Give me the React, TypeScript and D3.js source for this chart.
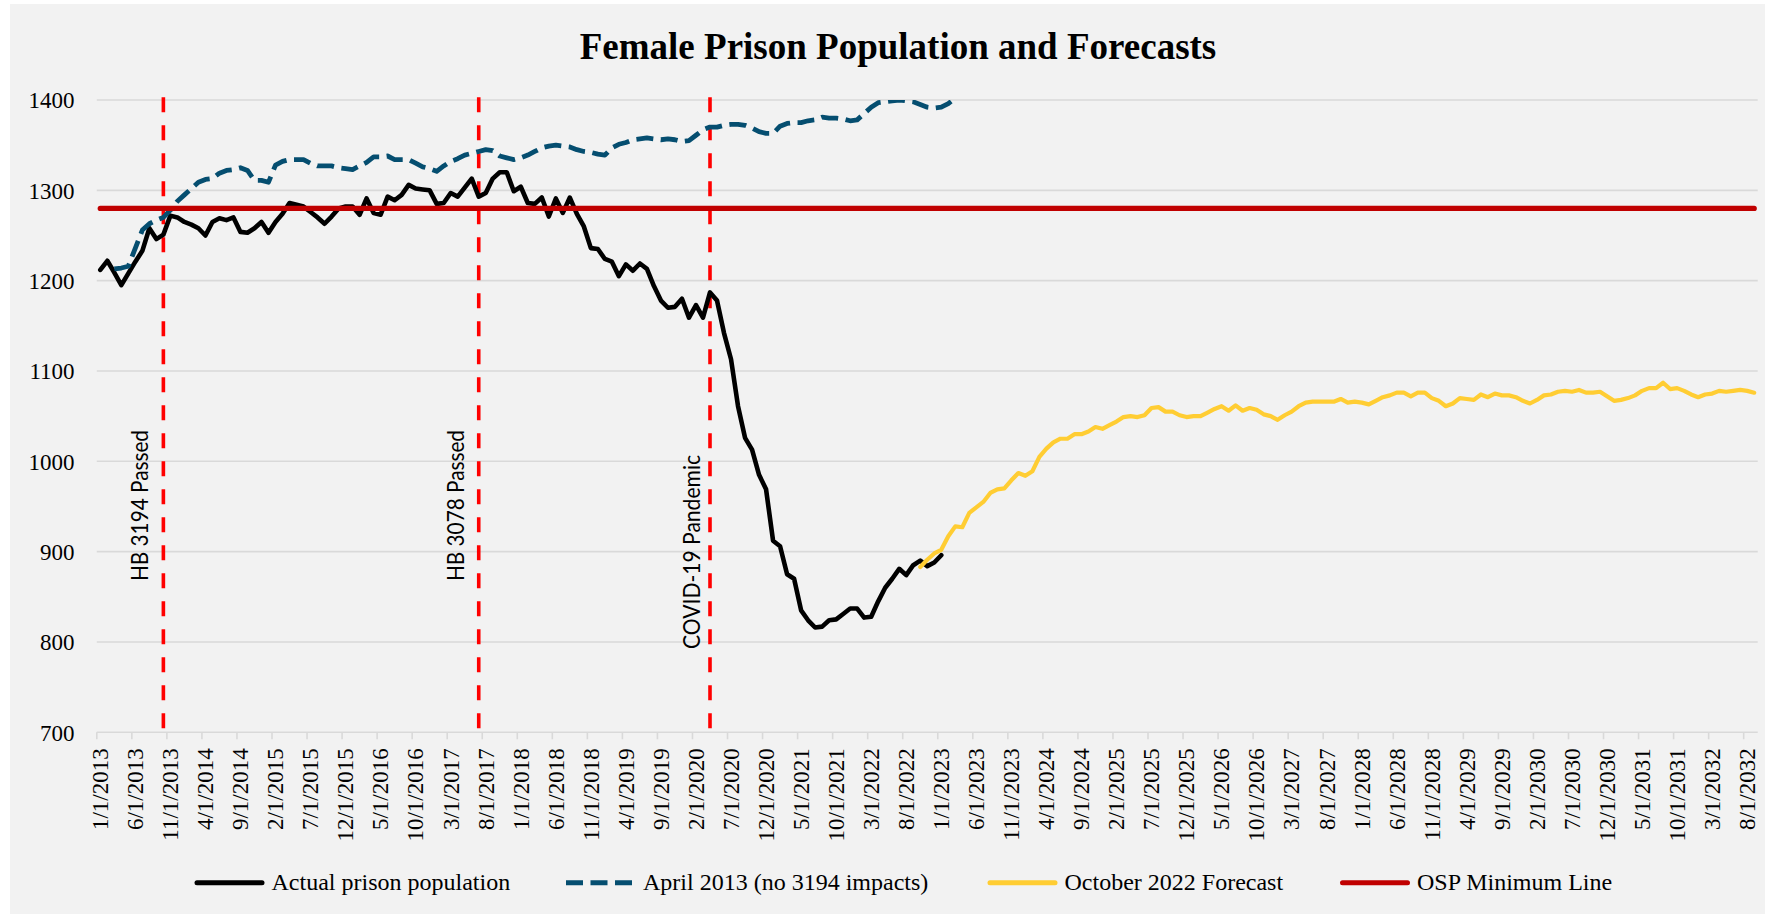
import React from "react";
import * as d3 from "d3";

// ---------- data ----------
const MONTH_COUNT = 237; // monthly categories 1/2013 .. 9/2032

const xTickLabels = [
  "1/1/2013", "6/1/2013", "11/1/2013", "4/1/2014", "9/1/2014", "2/1/2015", "7/1/2015", "12/1/2015",
  "5/1/2016", "10/1/2016", "3/1/2017", "8/1/2017", "1/1/2018", "6/1/2018", "11/1/2018", "4/1/2019",
  "9/1/2019", "2/1/2020", "7/1/2020", "12/1/2020", "5/1/2021", "10/1/2021", "3/1/2022", "8/1/2022",
  "1/1/2023", "6/1/2023", "11/1/2023", "4/1/2024", "9/1/2024", "2/1/2025", "7/1/2025", "12/1/2025",
  "5/1/2026", "10/1/2026", "3/1/2027", "8/1/2027", "1/1/2028", "6/1/2028", "11/1/2028", "4/1/2029",
  "9/1/2029", "2/1/2030", "7/1/2030", "12/1/2030", "5/1/2031", "10/1/2031", "3/1/2032", "8/1/2032",
];
const TICK_EVERY = 5; // months between labels

const yTicks = [700, 800, 900, 1000, 1100, 1200, 1300, 1400];

// Actual prison population, starts 1/2013 (month 0)
const actualStart = 0;
const actual = [
  1212, 1222, 1209, 1195, 1208, 1221, 1233, 1258, 1246, 1251,
  1272, 1270, 1265, 1262, 1258, 1250, 1265, 1269, 1267, 1270,
  1254, 1253, 1258, 1265, 1253, 1265, 1274, 1286, 1284, 1282,
  1276, 1270, 1263, 1271, 1280, 1282, 1282, 1273, 1291, 1275,
  1273, 1293, 1289, 1295, 1306, 1302, 1301, 1300, 1285, 1286,
  1297, 1293, 1303, 1313, 1293, 1297, 1313, 1320, 1320, 1299,
  1304, 1286, 1285, 1292, 1271, 1291, 1275, 1292, 1274, 1260,
  1236, 1235, 1224, 1221, 1205, 1218, 1211, 1219, 1213, 1194,
  1178, 1170, 1171, 1180, 1159, 1173, 1159, 1187, 1178, 1142,
  1113, 1061, 1026, 1013, 985, 969, 912, 906, 875, 870,
  835, 824, 816, 817, 824, 825, 831, 837, 837, 827,
  828, 845, 860, 870, 881, 874, 885, 890, 884, 888,
  896,
];

// April 2013 forecast (no 3194 impacts), starts 3/2013 (month 2)
const aprilStart = 2;
const april2013 = [
  1213, 1214, 1216, 1236, 1256, 1263, 1267, 1270,
  1278, 1288, 1295, 1302, 1309, 1312, 1313, 1319, 1322, 1323,
  1325, 1322, 1311, 1311, 1309, 1328, 1332, 1334, 1334, 1334,
  1330, 1327, 1327, 1327, 1325, 1324, 1323, 1327, 1331, 1337,
  1337, 1338, 1334, 1334, 1334, 1330, 1326, 1324, 1321, 1327,
  1332, 1335, 1339, 1341, 1343, 1345, 1344, 1338, 1336, 1334,
  1336, 1339, 1343, 1347, 1349, 1350, 1349, 1348, 1345, 1343,
  1342, 1340, 1339, 1347, 1351, 1353, 1356, 1357, 1358, 1357,
  1356, 1357, 1356, 1354, 1355, 1361, 1367, 1370, 1370, 1372,
  1373, 1373, 1372, 1369, 1365, 1363, 1363, 1371, 1374, 1375,
  1375, 1377, 1378, 1381, 1380, 1380, 1379, 1377, 1378, 1385,
  1392, 1397, 1398, 1399, 1400, 1399, 1398, 1395, 1392, 1391,
  1392, 1396, 1402, 1410,
];

// October 2022 forecast, starts 10/2022 (month 117)
const octStart = 117;
const oct2022 = [
  883, 891, 898, 902, 917, 928, 927, 943, 949, 955,
  965, 969, 970, 979, 987, 984, 989, 1005, 1014, 1021,
  1025, 1025, 1030, 1030, 1033, 1038, 1036, 1040, 1044, 1049,
  1050, 1049, 1051, 1059, 1060, 1055, 1055, 1051, 1049, 1050,
  1050, 1054, 1058, 1061, 1056, 1062, 1056, 1059, 1057, 1052,
  1050, 1046, 1051, 1055, 1061, 1065, 1066, 1066, 1066, 1066,
  1069, 1065, 1066, 1065, 1063, 1067, 1071, 1073, 1076, 1076,
  1072, 1076, 1076, 1070, 1067, 1061, 1064, 1070, 1069, 1068,
  1074, 1071, 1075, 1073, 1073, 1071, 1067, 1064, 1068, 1073,
  1074, 1077, 1078, 1077, 1079, 1076, 1076, 1077, 1072, 1067,
  1068, 1070, 1073, 1078, 1081, 1081, 1087, 1080, 1081, 1078,
  1074, 1071, 1074, 1075, 1078, 1077, 1078, 1079, 1078, 1076,
];

const ospMinimum = 1280;

const eventLabels = ["HB 3194 Passed", "HB 3078 Passed", "COVID-19 Pandemic"];
const eventMonths = [9, 54, 87];

const legendLabels = [
  "Actual prison population",
  "April 2013 (no 3194 impacts)",
  "October 2022 Forecast",
  "OSP Minimum Line",
];

// ---------- styles / layout ----------
const SERIF = "'Liberation Serif', 'Times New Roman', Times, serif";
const SANS = "Lato, 'Open Sans', 'Liberation Sans', sans-serif";
const C_ACTUAL = "#000000";
const C_APRIL = "#054E70";
const C_OCT = "#FFCD33";
const C_OSP = "#C00000";
const C_EVENT = "#FF0000";
const C_GRID = "#D9D9D9";
const APRIL_DASH = "17 7.5";

const eventLayout = [
  { gap: 15.4, bottom: 581, length: 151 },
  { gap: 14.9, bottom: 581, length: 151 },
  { gap: 10, bottom: 649, length: 194 },
];
const legendX = [194.5, 566, 987.5, 1340];

export default function App() {
  const W = 1765;
  const H = 914;
  const plot = { left: 96.8, right: 1757.7, top: 100, bottom: 732.3 };

  const months = d3.range(MONTH_COUNT);
  const x = d3.scaleBand<number>().domain(months).range([plot.left, plot.right]).padding(0);
  const bw = x.bandwidth();
  const xc = (i: number) => (x(i) as number) + bw / 2;
  const y = d3.scaleLinear().domain([700, 1400]).range([plot.bottom, plot.top]);

  const pts = (start: number, vals: number[]): [number, number][] =>
    vals.map((v, k) => [start + k, v] as [number, number]);
  const line = d3
    .line<[number, number]>()
    .x((d) => xc(d[0]))
    .y((d) => y(d[1]));

  const actualPath = line(pts(actualStart, actual)) || "";
  const aprilPath = line(pts(aprilStart, april2013)) || "";
  const octPath = line(pts(octStart, oct2022)) || "";
  const ospPath = line(months.map((m) => [m, ospMinimum] as [number, number])) || "";

  const tickMonths = xTickLabels.map((_, k) => k * TICK_EVERY);

  const legendY = 882.7;

  return (
    <div style={{ position: "absolute", left: 0, top: 0 }}>
      <svg width={W} height={H} viewBox={`0 0 ${W} ${H}`} style={{ display: "block" }}>
        <defs>
          <clipPath id="plotClip">
            <rect x={plot.left - 5} y={plot.top} width={plot.right - plot.left + 10} height={plot.bottom - plot.top} />
          </clipPath>
        </defs>
        <rect x={0} y={0} width={W} height={H} fill="#ffffff" />
        <rect x={10} y={4} width={W - 10} height={H - 4} fill="#F2F2F2" />

        {/* title */}
        <text x={898} y={59} textAnchor="middle" fontFamily={SERIF} fontWeight="bold" fontSize={37} fill="#000">
          Female Prison Population and Forecasts
        </text>

        {/* gridlines */}
        {yTicks.map((t) => (
          <line key={t} x1={plot.left} x2={plot.right} y1={y(t)} y2={y(t)} stroke={C_GRID} strokeWidth={1.6} />
        ))}
        {/* x ticks */}
        {tickMonths.map((m) => (
          <line key={m} x1={x(m)} x2={x(m)} y1={plot.bottom} y2={plot.bottom + 7} stroke={C_GRID} strokeWidth={1.6} />
        ))}

        {/* y labels */}
        {yTicks.map((t) => (
          <text key={t} x={74.6} y={y(t) + 8.2} textAnchor="end" fontFamily={SERIF} fontSize={23} fill="#000">
            {t}
          </text>
        ))}

        {/* x labels */}
        {xTickLabels.map((lab, k) => (
          <text
            key={lab}
            transform={`translate(${xc(tickMonths[k])},748.3) rotate(-90)`}
            textAnchor="end"
            dy="0.34em"
            fontFamily={SERIF}
            fontSize={23}
            fill="#000"
          >
            {lab}
          </text>
        ))}

        {/* event lines */}
        {eventMonths.map((m) => (
          <line
            key={m}
            x1={xc(m)}
            x2={xc(m)}
            y1={plot.top - 2.7}
            y2={plot.bottom}
            stroke={C_EVENT}
            strokeWidth={3.6}
            strokeDasharray="15 13"
          />
        ))}
        {eventLabels.map((lab, k) => (
          <text
            key={lab}
            transform={`translate(${xc(eventMonths[k]) - eventLayout[k].gap},${eventLayout[k].bottom}) rotate(-90)`}
            textAnchor="start"
            fontFamily={SANS}
            fontSize={23}
            textLength={eventLayout[k].length}
            lengthAdjust="spacingAndGlyphs"
            fill="#000"
          >
            {lab}
          </text>
        ))}

        {/* series */}
        <path d={actualPath} fill="none" stroke={C_ACTUAL} strokeWidth={4.6} strokeLinejoin="round" strokeLinecap="round" />
        <g clipPath="url(#plotClip)">
          <path d={aprilPath} fill="none" stroke={C_APRIL} strokeWidth={4.8} strokeLinejoin="round" strokeDasharray={APRIL_DASH} />
        </g>
        <path d={octPath} fill="none" stroke={C_OCT} strokeWidth={4.2} strokeLinejoin="round" strokeLinecap="round" />
        <path d={ospPath} fill="none" stroke={C_OSP} strokeWidth={5.3} strokeLinejoin="round" strokeLinecap="round" />

        {/* legend */}
        {legendLabels.map((lab, k) => {
          const sx = legendX[k];
          const color = [C_ACTUAL, C_APRIL, C_OCT, C_OSP][k];
          return (
            <g key={lab}>
              {k === 1 ? (
                <line x1={sx} x2={sx + 66} y1={legendY} y2={legendY} stroke={color} strokeWidth={5} strokeDasharray={APRIL_DASH} />
              ) : (
                <line x1={sx + 2.5} x2={sx + 67.5} y1={legendY} y2={legendY} stroke={color} strokeWidth={5} strokeLinecap="round" />
              )}
              <text x={sx + 77} y={890} fontFamily={SERIF} fontSize={24} fill="#000">
                {lab}
              </text>
            </g>
          );
        })}
      </svg>
    </div>
  );
}
